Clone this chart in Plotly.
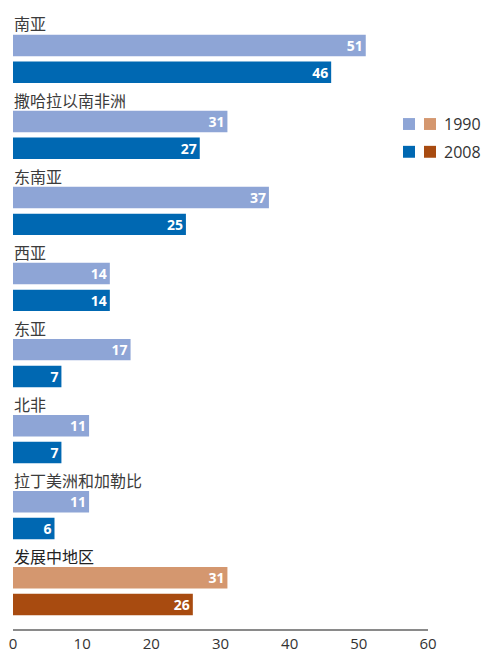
import plotly.graph_objects as go

# data
regions = ["南亚", "撒哈拉以南非洲", "东南亚", "西亚", "东亚", "北非", "拉丁美洲和加勒比", "发展中地区"]
values_1990 = [51, 31, 37, 14, 17, 11, 11, 31]
values_2008 = [46, 27, 25, 14, 7, 7, 6, 26]
series_names = ["1990", "2008"]

BLUE_1990 = "#8EA5D6"
BLUE_2008 = "#0068B2"
ORANGE_1990 = "#D4976F"
ORANGE_2008 = "#A84B10"

W, H = 482, 653
M_L, M_R, M_T, M_B = 13, 54, 0, 19
GROUP = 2.837      # spacing between region groups, in bar-pitch units
LABEL_OFF = 0.82   # label sits this far above first bar
Y_RANGE = [21.77, -1.696]

n = len(regions)
is_total = [r == "发展中地区" for r in regions]
y1 = [g * GROUP for g in range(n)]
y2 = [g * GROUP + 1 for g in range(n)]
c1 = [ORANGE_1990 if t else BLUE_1990 for t in is_total]
c2 = [ORANGE_2008 if t else BLUE_2008 for t in is_total]

bar_font = dict(family="Open Sans, Noto Sans", size=14, color="white", weight="bold")

fig = go.Figure()
for name, vals, ys, cols in [(series_names[0], values_1990, y1, c1), (series_names[1], values_2008, y2, c2)]:
    fig.add_trace(go.Bar(
        x=vals, y=ys, orientation="h", name=name,
        marker=dict(color=cols, line=dict(width=0)),
        width=0.8,
        text=[str(v) for v in vals],
        textposition="inside", insidetextanchor="end", textangle=0,
        textfont=bar_font, insidetextfont=bar_font,
        constraintext="none", cliponaxis=False,
        hoverinfo="skip",
    ))

# region labels above each pair of bars
for g, r in enumerate(regions):
    fig.add_annotation(
        x=0, y=y1[g] - LABEL_OFF, xref="x", yref="y",
        text=r, showarrow=False, xanchor="left", yanchor="middle", xshift=-1,
        font=dict(family="Noto Sans CJK SC", size=16, color="#222" if is_total[g] else "#3c3c3c"),
    )

# custom legend: two swatches per year (positions in pixels)
plot_w = W - M_L - M_R
plot_h = H - M_T - M_B


def px_x(p):
    return (p - M_L) / plot_w


def px_y(p):
    return 1 - (p - M_T) / plot_h


legend_rows = [(series_names[0], BLUE_1990, ORANGE_1990, 125), (series_names[1], BLUE_2008, ORANGE_2008, 153)]
for label, cb, co, yc in legend_rows:
    for x0, col in [(403, cb), (424, co)]:
        fig.add_shape(type="rect", xref="paper", yref="paper",
                      x0=px_x(x0), x1=px_x(x0 + 12), y0=px_y(yc - 6), y1=px_y(yc + 6),
                      fillcolor=col, line=dict(width=0))
    fig.add_annotation(x=px_x(442), y=px_y(yc), xref="paper", yref="paper",
                       text=label, showarrow=False, xanchor="left", yanchor="middle",
                       font=dict(family="Open Sans, Noto Sans", size=16, color="#333"))

fig.update_layout(
    width=W, height=H,
    margin=dict(l=M_L, r=M_R, t=M_T, b=M_B, pad=0),
    barmode="overlay",
    showlegend=False,
    hovermode=False,
    plot_bgcolor="white", paper_bgcolor="white",
    xaxis=dict(range=[0, 60], dtick=10, showgrid=False, zeroline=False,
               showline=True, linecolor="#8a8a8a", linewidth=2, ticks="",
               tickfont=dict(family="Open Sans, Noto Sans", size=15, color="#333")),
    yaxis=dict(range=Y_RANGE, visible=False, showgrid=False, zeroline=False),
)

# drop the browser's default body margin so the figure fills the window exactly
fig.write_html("out.html", config={"displayModeBar": False},
               post_script="document.body.style.margin='0';document.body.style.overflow='hidden';")
